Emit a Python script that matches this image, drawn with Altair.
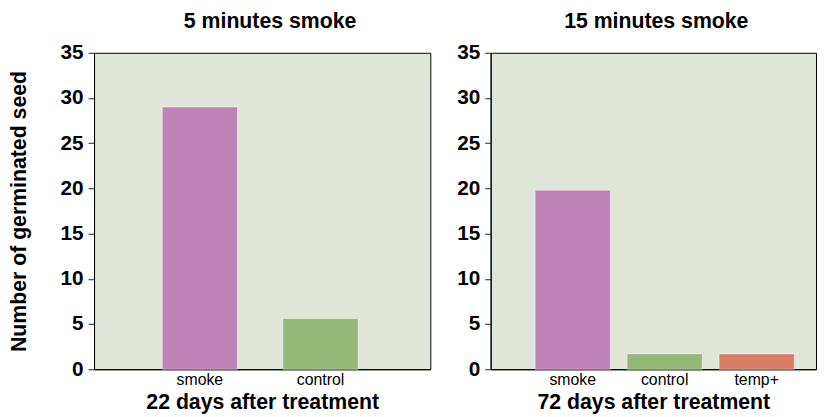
import altair as alt
import pandas as pd

# Data
left_categories = ["smoke", "control"]
left_values = [29.0, 5.6]
right_categories = ["smoke", "control", "temp+"]
right_values = [19.8, 1.7, 1.7]

color_domain = ["smoke", "control", "temp+"]
color_range = ["#bf82b7", "#94b878", "#d97c66"]

y_ticks = [0, 5, 10, 15, 20, 25, 30, 35]

FONT = "Liberation Sans"
TFS = 21.5


def panel(df, cats, title, xtitle, width, pad_outer, align, ytitle, title_dx):
    y_axis = alt.Axis(
        values=y_ticks, grid=False, tickSize=6, tickColor="#222222",
        domainColor="black", labelFont=FONT, labelFontSize=21, labelFontWeight="bold",
        labelColor="black", labelPadding=5, titleFont=FONT, titleFontSize=TFS,
        titleFontWeight="bold", titleColor="black", titlePadding=30,
    )
    x_axis = alt.Axis(
        labelAngle=0, tickSize=0, domainColor="black", labelFont=FONT,
        labelFontSize=16, labelFontWeight="normal", labelColor="black",
        labelPadding=2, titleFont=FONT, titleFontSize=TFS, titleFontWeight="bold",
        titleColor="black", titlePadding=5,
    )
    return alt.Chart(df, title=alt.TitleParams(
        title, font=FONT, fontSize=TFS, fontWeight="bold", color="black",
        anchor="middle", offset=10, dx=title_dx,
    )).mark_bar(size=76, stroke="white", strokeOpacity=0.45, strokeWidth=1).encode(
        x=alt.X("treatment:N", title=xtitle, axis=x_axis,
                scale=alt.Scale(domain=cats, paddingInner=0, paddingOuter=pad_outer, align=align)),
        y=alt.Y("seeds:Q", title=ytitle, axis=y_axis,
                scale=alt.Scale(domain=[0, 35], nice=False, zero=True)),
        color=alt.Color("treatment:N", legend=None,
                        scale=alt.Scale(domain=color_domain, range=color_range)),
    ).properties(width=width, height=320)


left_df = pd.DataFrame({"treatment": left_categories, "seeds": left_values})
right_df = pd.DataFrame({"treatment": right_categories, "seeds": right_values})

left = panel(left_df, left_categories, "5 minutes smoke", "22 days after treatment",
             340, 0.393, 0.479, "Number of germinated seed", 8)
right = panel(right_df, right_categories, "15 minutes smoke", "72 days after treatment",
              329, 0.269, 0.73, None, 3)

chart = alt.hconcat(left, right, spacing=25).configure_view(
    stroke="black", strokeWidth=1, fill="#e0e5da"
).properties(padding=0, background="white")

chart.save("out.html", embed_options={"renderer": "svg", "actions": False})
